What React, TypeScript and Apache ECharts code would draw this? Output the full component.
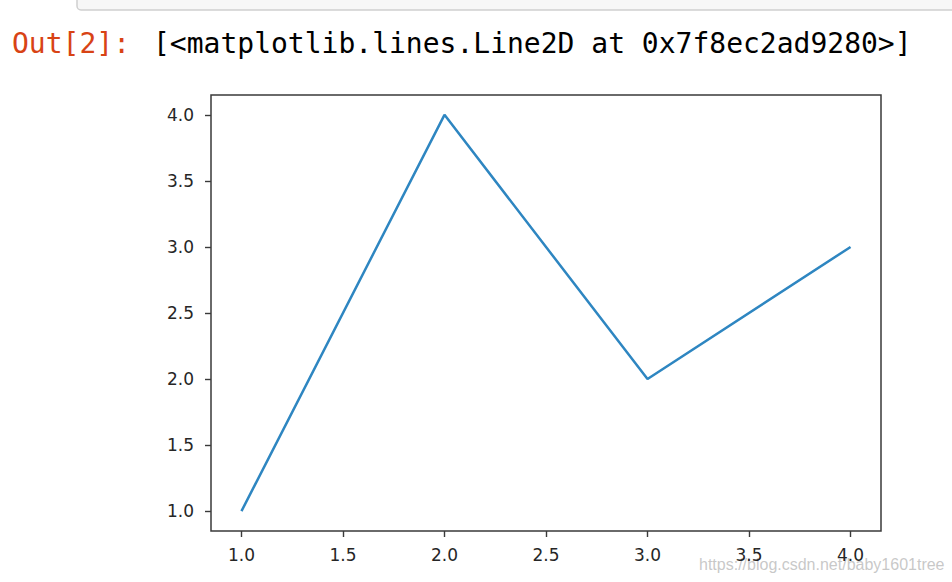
import React, { useEffect, useRef } from "react";
import * as echarts from "echarts";

const xValues = [1, 2, 3, 4];
const yValues = [1, 4, 2, 3];
const xTicks = [1.0, 1.5, 2.0, 2.5, 3.0, 3.5, 4.0];
const yTicks = [1.0, 1.5, 2.0, 2.5, 3.0, 3.5, 4.0];
const promptText = "Out[2]:";
const outputText = "[<matplotlib.lines.Line2D at 0x7f8ec2ad9280>]";
const watermark = "https://blog.csdn.net/baby1601tree";

export default function App() {
  const ref = useRef<HTMLDivElement>(null);
  useEffect(() => {
    if (!ref.current) return;
    const chart = echarts.init(ref.current, null, { renderer: "svg" });
    const labelStyle = {
      color: "#262626",
      fontFamily: "DejaVu Sans",
      fontSize: 17,
      formatter: (v: number) => v.toFixed(1),
    };
    chart.setOption({
      animation: false,
      backgroundColor: "#ffffff",
      grid: {
        left: 211,
        top: 95,
        right: 71,
        bottom: 51,
        show: true,
        borderColor: "#3a3a3a",
        borderWidth: 1.5,
        backgroundColor: "transparent",
      },
      xAxis: {
        type: "value",
        min: 0.85,
        max: 4.15,
        axisLine: { show: false },
        splitLine: { show: false },
        axisTick: {
          show: true,
          length: 6,
          customValues: xTicks,
          lineStyle: { color: "#3a3a3a", width: 1.4 },
        },
        axisLabel: { ...labelStyle, margin: 15, customValues: xTicks },
      },
      yAxis: {
        type: "value",
        min: 0.85,
        max: 4.15,
        axisLine: { show: false },
        splitLine: { show: false },
        axisTick: {
          show: true,
          length: 6,
          customValues: yTicks,
          lineStyle: { color: "#3a3a3a", width: 1.4 },
        },
        axisLabel: { ...labelStyle, margin: 17, customValues: yTicks },
      },
      series: [
        {
          type: "line",
          data: xValues.map((x, i) => [x, yValues[i]]),
          showSymbol: false,
          symbol: "none",
          lineStyle: { color: "#2e86c1", width: 2.5 },
        },
      ],
      graphic: [
        {
          type: "rect",
          shape: { x: 77, y: -12, width: 900, height: 22, r: 4 },
          style: { fill: "#f7f7f7", stroke: "#cfcfcf", lineWidth: 1.5 },
        },
        {
          type: "text",
          x: 12,
          y: 43,
          style: {
            text: promptText,
            fill: "#D84315",
            font: "28px 'DejaVu Sans Mono'",
            textVerticalAlign: "middle",
          },
        },
        {
          type: "text",
          x: 153,
          y: 43,
          style: {
            text: outputText,
            fill: "#000000",
            font: "28px 'DejaVu Sans Mono'",
            textVerticalAlign: "middle",
          },
        },
        {
          type: "text",
          x: 699,
          y: 564,
          style: {
            text: watermark,
            fill: "rgba(190,190,190,0.85)",
            font: "16px 'Liberation Sans'",
            textVerticalAlign: "middle",
          },
        },
      ],
    });
    return () => chart.dispose();
  }, []);
  return (
    <div
      ref={ref}
      style={{ position: "fixed", left: 0, top: 0, width: 952, height: 582 }}
    />
  );
}
